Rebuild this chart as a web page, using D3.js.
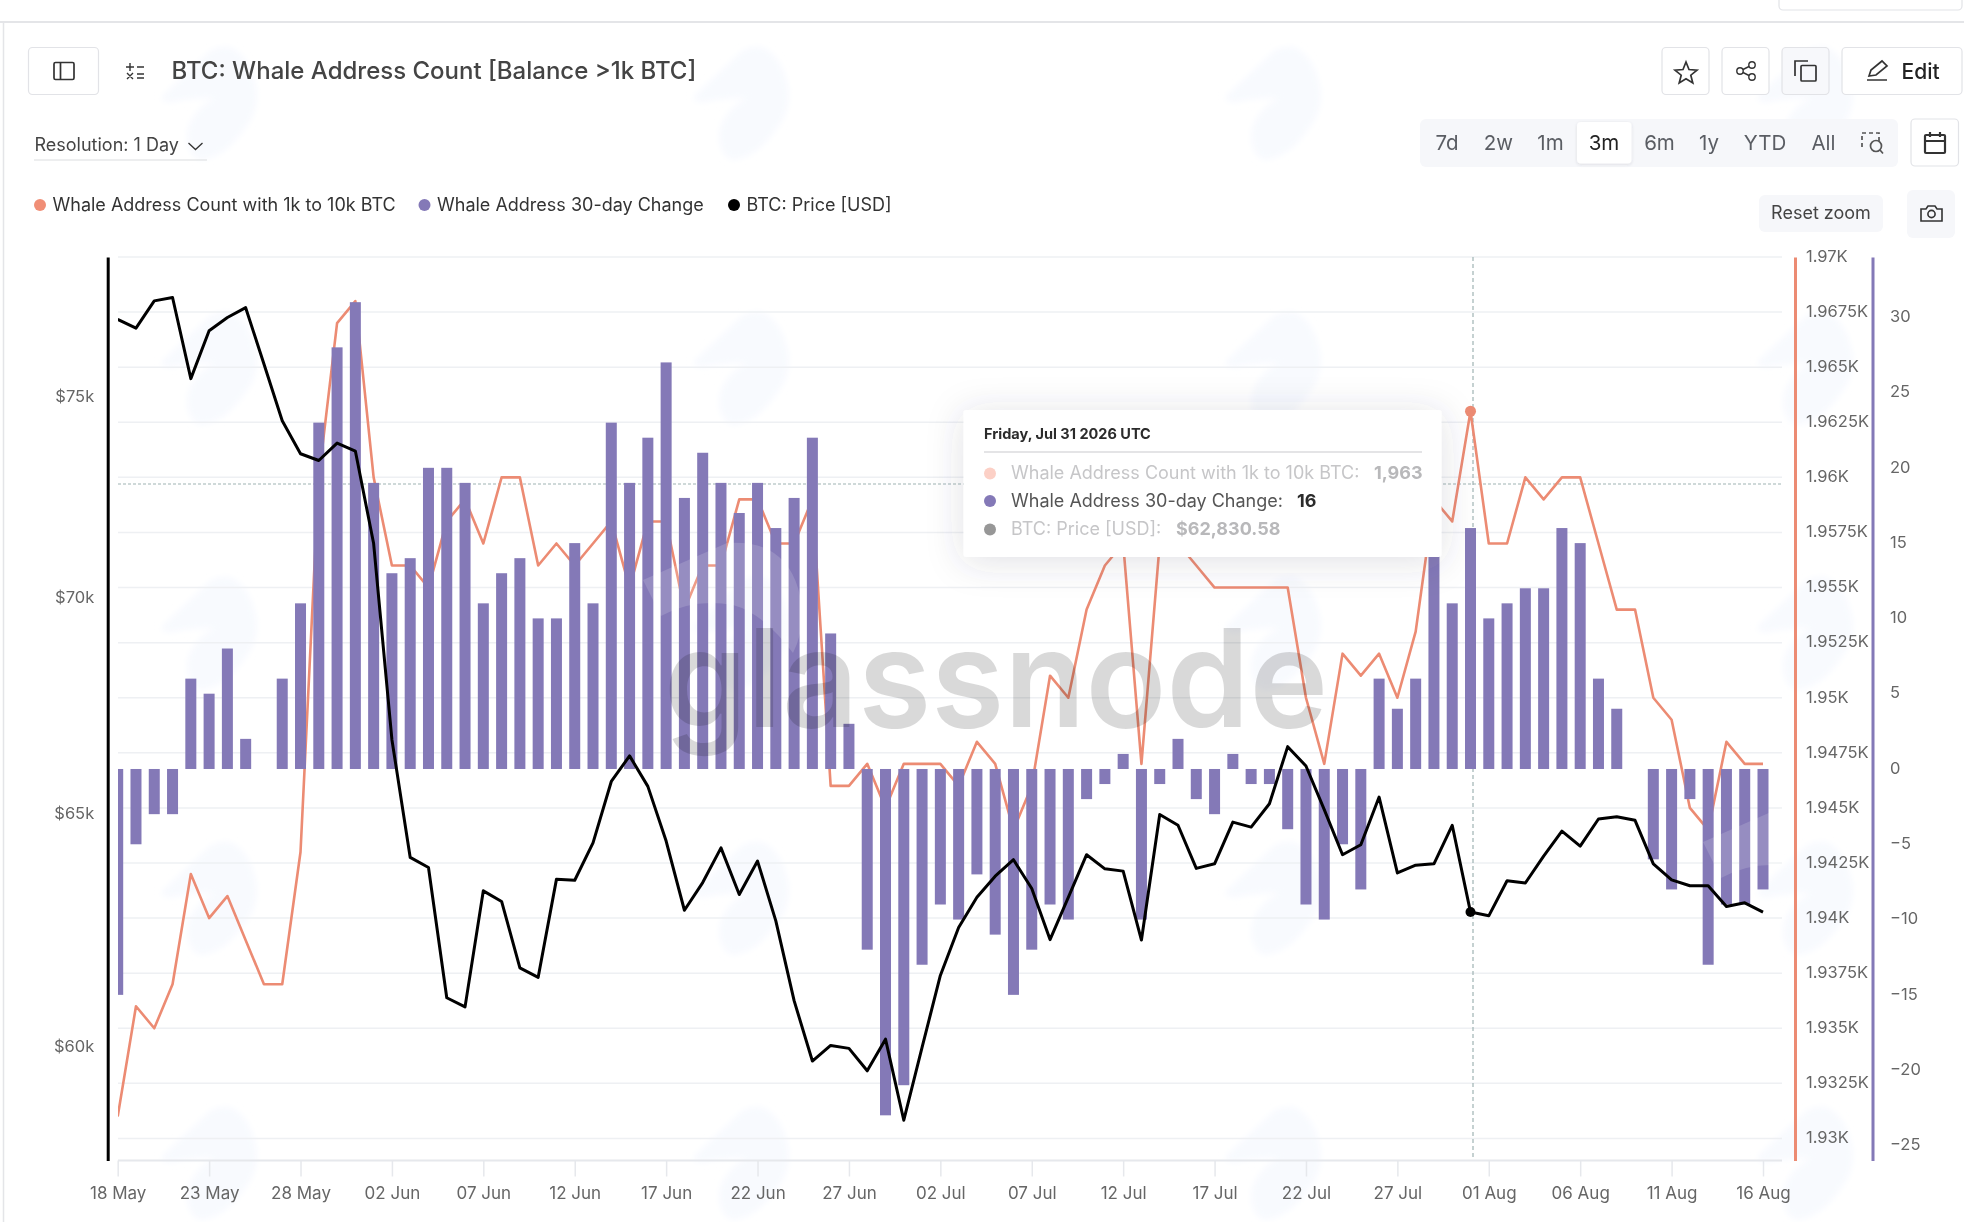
<!DOCTYPE html>
<html>

<head>
  <meta charset="utf-8">
  <style>
    body {
      margin: 0;
      background: #fff;
    }

    text {
      font-family: Inter, "Noto Sans", sans-serif;
    }

    .axis text {
      font-size: 16.5px;
      fill: #666;
    }

    .axis.days text {
      font-size: 17px;
    }

    .icon {
      fill: none;
      stroke: #333;
      stroke-width: 1.7;
    }
  </style>
</head>

<body>
  <svg id="chart" width="1964" height="1222" viewBox="0 0 1964 1222"></svg>

  <script src="https://d3js.org/d3.v7.min.js"></script>
  <script>
    // whale addresses holding 1k to 10k BTC, one value per day from 18 May
    const whaleCount = [
      1931, 1936, 1935, 1937, 1942, 1940, 1941, 1939, 1937, 1937,
      1943, 1960, 1967, 1968, 1960, 1956, 1956, 1955, 1958, 1959,
      1957, 1960, 1960, 1956, 1957, 1956, 1957, 1958, 1955, 1958,
      1958, 1954, 1956, 1956, 1959, 1959, 1957, 1957, 1959, 1946,
      1946, 1947, 1945, 1947, 1947, 1947, 1946, 1948, 1947, 1944,
      1946, 1951, 1950, 1954, 1956, 1957, 1947, 1957, 1957, 1956,
      1955, 1955, 1955, 1955, 1955, 1950, 1947, 1952, 1951, 1952,
      1950, 1953, 1959, 1958, 1963, 1957, 1957, 1960, 1959, 1960,
      1960, 1957, 1954, 1954, 1950, 1949, 1945, 1944, 1948, 1947,
      1947
    ]

    const whaleChange = [
      -15, -5, -3, -3, 6, 5, 8, 2, 0, 6,
      11, 23, 28, 31, 19, 13, 14, 20, 20, 19,
      11, 13, 14, 10, 10, 15, 11, 23, 19, 22,
      27, 18, 21, 19, 17, 19, 16, 18, 22, 9,
      3, -12, -23, -21, -13, -9, -10, -7, -11, -15,
      -12, -9, -10, -2, -1, 1, -10, -1, 2, -2,
      -3, 1, -1, -1, -4, -9, -10, -5, -8, 6,
      4, 6, 15, 11, 16, 10, 11, 12, 12, 16,
      15, 6, 4, 0, -6, -8, -2, -13, -9, -9,
      -8
    ]

    const btcPrice = [
      77000, 76770, 77490, 77580, 75450, 76700, 77050, 77310, 75830, 74370,
      73530, 73360, 73800, 73600, 71300, 66660, 64020, 63800, 61010, 60820,
      63290, 63060, 61640, 61440, 63540, 63520, 64340, 65710, 66290, 65600,
      64380, 62870, 63470, 64230, 63210, 63940, 62640, 60950, 59700, 60020,
      59960, 59500, 60150, 58500, 59980, 61480, 62500, 63150, 63610, 63970,
      63340, 62240, 63150, 64080, 63770, 63720, 62230, 64970, 64730, 63780,
      63880, 64800, 64690, 65210, 66500, 66060, 65080, 64080, 64300, 65360,
      63680, 63850, 63880, 64730, 62830.58, 62750, 63510, 63460, 64050, 64600,
      64270, 64870, 64920, 64840, 63880, 63530, 63400, 63400, 62950, 63030,
      62830
    ]

    const priceTicks = [60000, 65000, 70000, 75000]
    const countTicks = [1930, 1932.5, 1935, 1937.5, 1940, 1942.5, 1945, 1947.5, 1950, 1952.5, 1955, 1957.5, 1960, 1962.5, 1965, 1967.5, 1970]
    const changeTicks = [-25, -20, -15, -10, -5, 0, 5, 10, 15, 20, 25, 30]
    const rangeButtons = ["7d", "2w", "1m", "3m", "6m", "1y", "YTD", "All"]
    const legendNames = ["Whale Address Count with 1k to 10k BTC", "Whale Address 30-day Change", "BTC: Price [USD]"]

    const ORANGE = "#ec8b73"
    const PURPLE = "#8479b7"

    const plotTop = 257, plotBottom = 1160.5, plotLeft = 118, plotRight = 1782

    const svg = d3.select("#chart")
    const days = d3.utcDay.range(new Date(Date.UTC(2026, 4, 18)), new Date(Date.UTC(2026, 7, 17)))
    const hover = days.findIndex(d => +d === Date.UTC(2026, 6, 31))

    // scales
    const x = d3.scaleUtc().domain([days[0], days[days.length - 1]]).range([117.7, 1763])
    const yPrice = d3.scaleLog().domain([57697, 78666]).range([plotBottom, plotTop])
    const yCount = d3.scaleLinear().domain([1929, 1970]).range([plotBottom, plotTop])
    const yChange = d3.scaleLinear().domain([-26, 34]).range([plotBottom, plotTop])

    const defs = svg.append("defs")
    defs.append("clipPath").attr("id", "plot")
      .append("rect")
      .attr("x", plotLeft).attr("y", plotTop)
      .attr("width", plotRight - plotLeft).attr("height", plotBottom - plotTop)

    const shadow = defs.append("filter").attr("id", "soft")
      .attr("x", "-20%").attr("y", "-40%").attr("width", "140%").attr("height", "180%")
    shadow.append("feDropShadow")
      .attr("dx", 0).attr("dy", 4).attr("stdDeviation", 18)
      .attr("flood-color", "#445").attr("flood-opacity", 0.16)

    const tabShadow = defs.append("filter").attr("id", "tab")
    tabShadow.append("feDropShadow")
      .attr("dx", 0).attr("dy", 1).attr("stdDeviation", 1.5)
      .attr("flood-color", "#445").attr("flood-opacity", 0.15)

    defs.append("filter").attr("id", "blur")
      .append("feGaussianBlur").attr("stdDeviation", 3)

    // watermark bird
    const birdPath = "M0,55 L50,8 Q75,-6 90,25 Q106,60 85,85 Q65,115 40,117 Q24,110 28,85 Q35,65 55,55 Q30,55 8,60 Z"
    const wingPath = "M0,37 L84,0 Q140,-4 155,45 Q165,80 150,110 Q120,70 90,62 Q50,55 18,73 Z"

    const logoLayer = svg.append("g").attr("filter", "url(#blur)")
    const logoCols = [160, 692, 1224, 1756]
    const logoRows = [43, 308, 573, 838, 1103]
    logoCols.forEach(cx => logoRows.forEach(cy => {
      logoLayer.append("path")
        .attr("d", birdPath)
        .attr("transform", `translate(${cx},${cy})`)
        .attr("fill", "#f8fafe")
    }))

    // page frame
    svg.append("line").attr("x1", 0).attr("x2", 1964).attr("y1", 22).attr("y2", 22)
      .attr("stroke", "#e4e5e8").attr("stroke-width", 2)
    svg.append("line").attr("x1", 3.5).attr("x2", 3.5).attr("y1", 22).attr("y2", 1222)
      .attr("stroke", "#e4e5e8").attr("stroke-width", 1.5)
    svg.append("rect").attr("x", 1779).attr("y", -10).attr("width", 183).attr("height", 20).attr("rx", 4)
      .attr("fill", "#fff").attr("stroke", "#e2e3e7").attr("stroke-width", 1.2)

    function button(x0, y0, w, h, fill) {
      svg.append("rect")
        .attr("x", x0).attr("y", y0).attr("width", w).attr("height", h).attr("rx", 4)
        .attr("fill", fill || "#fff").attr("stroke", "#e2e3e7").attr("stroke-width", 1.2)
    }

    function softBox(x0, y0, w, h) {
      svg.append("rect")
        .attr("x", x0).attr("y", y0).attr("width", w).attr("height", h).attr("rx", 6)
        .attr("fill", "#f6f7fa")
    }

    // header, left side
    button(28.5, 47.5, 70, 47)
    svg.append("rect").attr("class", "icon").attr("x", 54).attr("y", 62.5).attr("width", 20).attr("height", 17).attr("rx", 1.5)
    svg.append("line").attr("class", "icon").attr("x1", 60.5).attr("x2", 60.5).attr("y1", 62.5).attr("y2", 79.5)
    svg.append("path").attr("class", "icon").style("stroke-width", 1.4)
      .attr("d", "M126,67h8M130,63v8M137,67h7M127,73l6,6M133,73l-6,6M137,74h7M137,78h7")

    svg.append("text").attr("x", 171.5).attr("y", 79)
      .attr("font-size", 24).attr("font-weight", 500).attr("fill", "#444")
      .text("BTC: Whale Address Count [Balance >1k BTC]")

    svg.append("text").attr("x", 34.5).attr("y", 150.5)
      .attr("font-size", 18).attr("fill", "#444").text("Resolution: 1 Day")
    svg.append("path").attr("class", "icon").style("stroke-width", 1.3).attr("d", "M188.5,143l7,6.5l7,-6.5")
    svg.append("line").attr("x1", 34).attr("x2", 207).attr("y1", 160).attr("y2", 160)
      .attr("stroke", "#dcdde0").attr("stroke-width", 1.2)

    // legend
    const legendX = [40, 424.5, 734]
    const legendColor = ["#f08e76", PURPLE, "#000"]
    legendNames.forEach((name, i) => {
      svg.append("circle").attr("cx", legendX[i]).attr("cy", 205).attr("r", 6).attr("fill", legendColor[i])
      svg.append("text").attr("x", legendX[i] + 12.5).attr("y", 210.5)
        .attr("font-size", 18).attr("fill", "#333").text(name)
    })

    // header, right side
    button(1662, 47.5, 47, 47)
    svg.append("path").attr("class", "icon")
      .attr("d", "M1686,62l3,7.5l8,.6l-6.2,5.1l2,7.8l-6.8,-4.3l-6.8,4.3l2,-7.8l-6.2,-5.1l8,-.6z")
    button(1722, 47.5, 47, 47)
    svg.append("path").attr("class", "icon").style("stroke-width", 1.4).attr("d", "M1740,71L1752,65M1740,71L1752,77")
    svg.selectAll(".shareDot").data([[1740, 71], [1752, 65], [1752, 77]]).join("circle")
      .attr("class", "icon").attr("cx", d => d[0]).attr("cy", d => d[1]).attr("r", 3.2)
      .style("fill", "#fff").style("stroke-width", 1.4)
    button(1782, 47.5, 47, 47, "#f7f8fb")
    svg.append("path").attr("class", "icon").attr("d", "M1795,76V61H1808")
    svg.append("rect").attr("class", "icon").attr("x", 1801).attr("y", 65.5).attr("width", 15).attr("height", 15.5).attr("rx", 1)
    button(1842, 47.5, 120, 47)
    svg.append("path").attr("class", "icon")
      .attr("d", "M1869,76l2,-6l11,-9l5,5l-11,9zM1867,80h20")
    svg.append("text").attr("x", 1901.5).attr("y", 78.5)
      .attr("font-size", 21).attr("font-weight", 500).attr("fill", "#222").text("Edit")

    // range picker
    softBox(1420, 119, 478, 48)
    svg.append("rect").attr("x", 1577).attr("y", 122).attr("width", 54.5).attr("height", 41.5).attr("rx", 4)
      .attr("fill", "#fff").attr("filter", "url(#tab)")
    const rangeCenters = [1447, 1498.5, 1550.5, 1604, 1659.5, 1709, 1765, 1823.5]
    svg.selectAll(".range").data(rangeButtons).join("text")
      .attr("class", "range")
      .attr("x", (d, i) => rangeCenters[i]).attr("y", 149.5)
      .attr("text-anchor", "middle").attr("font-size", 20.5)
      .attr("fill", d => d === "3m" ? "#222" : "#5a5d63")
      .text(d => d)
    svg.append("path").attr("class", "icon").style("stroke", "#555").style("stroke-dasharray", "4 3")
      .attr("d", "M1862,147V133H1879V141")
    svg.append("circle").attr("class", "icon").style("stroke", "#555").attr("cx", 1876).attr("cy", 146).attr("r", 5.5)
    svg.append("path").attr("class", "icon").style("stroke", "#555").attr("d", "M1880,150l3,3.5")

    button(1911, 119, 47.5, 47)
    svg.append("rect").attr("class", "icon").style("stroke-width", 2.2).attr("x", 1925).attr("y", 135).attr("width", 20).attr("height", 18).attr("rx", 1)
    svg.append("path").attr("class", "icon").style("stroke-width", 2.2).attr("d", "M1925,141h20M1930,132v5M1940,132v5")

    softBox(1759, 195, 124, 37)
    svg.append("text").attr("x", 1821).attr("y", 219).attr("text-anchor", "middle")
      .attr("font-size", 18).attr("fill", "#444").text("Reset zoom")
    softBox(1907, 190, 48, 48)
    svg.append("path").attr("class", "icon").style("stroke-width", 1.6)
      .attr("d", "M1921,209h5l2,-3h7l2,3h5v12h-21z")
    svg.append("circle").attr("class", "icon").style("stroke-width", 1.6).attr("cx", 1931.5).attr("cy", 214).attr("r", 3.6)

    // gridlines
    svg.append("g").selectAll("line").data(countTicks).join("line")
      .attr("x1", plotLeft).attr("x2", plotRight)
      .attr("y1", d => yCount(d)).attr("y2", d => yCount(d))
      .attr("stroke", "#eef0f3").attr("stroke-width", 1.5)

    const plot = svg.append("g").attr("clip-path", "url(#plot)")

    // cursor lines sit behind the series
    const cursorX = x(days[hover]) + 2.5
    plot.append("line")
      .attr("x1", plotLeft).attr("x2", plotRight)
      .attr("y1", yCount(1959.7)).attr("y2", yCount(1959.7))
      .attr("stroke", "#9fb3b3").attr("stroke-width", 1.2).attr("stroke-dasharray", "3 2")
    plot.append("line")
      .attr("x1", cursorX).attr("x2", cursorX)
      .attr("y1", plotTop).attr("y2", plotBottom)
      .attr("stroke", "#9fb3b3").attr("stroke-width", 1.2).attr("stroke-dasharray", "4 3")

    const lineCount = d3.line().x((d, i) => x(days[i])).y(d => yCount(d))
    plot.append("path").datum(whaleCount)
      .attr("d", lineCount)
      .attr("fill", "none").attr("stroke", ORANGE).attr("stroke-width", 2.6).attr("stroke-linejoin", "round")

    const barWidth = 11
    plot.selectAll(".bar").data(whaleChange).join("rect")
      .attr("class", "bar")
      .attr("x", (d, i) => x(days[i]) - barWidth / 2)
      .attr("y", d => yChange(Math.max(d, 0)))
      .attr("width", barWidth)
      .attr("height", d => Math.abs(yChange(d) - yChange(0)))
      .attr("fill", PURPLE)

    const linePrice = d3.line().x((d, i) => x(days[i])).y(d => yPrice(d))
    plot.append("path").datum(btcPrice)
      .attr("d", linePrice)
      .attr("fill", "none").attr("stroke", "#000").attr("stroke-width", 3).attr("stroke-linejoin", "round")

    plot.append("circle").attr("cx", x(days[hover])).attr("cy", yCount(whaleCount[hover])).attr("r", 5.5).attr("fill", ORANGE)
    plot.append("circle").attr("cx", x(days[hover])).attr("cy", yPrice(btcPrice[hover])).attr("r", 5).attr("fill", "#000")

    // watermark on top of the marks
    const overlayBirds = [[643, 543], [1703, 805]]
    overlayBirds.forEach(p => {
      plot.append("path")
        .attr("d", wingPath)
        .attr("transform", `translate(${p[0]},${p[1]})`)
        .attr("fill", "#fff").attr("opacity", 0.15)
    })
    svg.append("text").attr("x", 664).attr("y", 727)
      .attr("font-size", 136).attr("font-weight", 600)
      .attr("textLength", 664).attr("lengthAdjust", "spacingAndGlyphs")
      .attr("fill", "#000").attr("fill-opacity", 0.15)
      .text("glassnode")

    // axes
    const axisPrice = d3.axisLeft(yPrice).tickValues(priceTicks).tickSize(0).tickPadding(13.5)
      .tickFormat(d => "$" + d / 1000 + "k")
    const gPrice = svg.append("g").attr("class", "axis").attr("transform", "translate(107.7,0)").call(axisPrice)
    gPrice.select(".domain").attr("stroke", "#000").attr("stroke-width", 3)

    const axisCount = d3.axisRight(yCount).tickValues(countTicks).tickSize(0).tickPadding(11)
      .tickFormat(d => d / 1000 + "K")
    const gCount = svg.append("g").attr("class", "axis").attr("transform", "translate(1795,0)").call(axisCount)
    gCount.select(".domain").attr("stroke", ORANGE).attr("stroke-width", 3)
    gCount.selectAll(".tick text").attr("dy", "0.26em")

    const axisChange = d3.axisRight(yChange).tickValues(changeTicks).tickSize(0).tickPadding(17.5)
    const gChange = svg.append("g").attr("class", "axis").attr("transform", "translate(1872.5,0)").call(axisChange)
    gChange.select(".domain").attr("stroke", PURPLE).attr("stroke-width", 3)
    gChange.selectAll(".tick text").attr("dy", "0.26em")

    const axisDays = d3.axisBottom(x).tickValues(days.filter((d, i) => i % 5 === 0))
      .tickSize(16).tickPadding(10).tickSizeOuter(0)
      .tickFormat(d3.utcFormat("%d %b"))
    const gDays = svg.append("g").attr("class", "axis days").attr("transform", `translate(0,${plotBottom})`).call(axisDays)
    gDays.select(".domain").attr("d", `M${plotLeft},0H${plotRight}`).attr("stroke", "#e6e8ec").attr("stroke-width", 2)
    gDays.selectAll(".tick line").attr("stroke", "#e6e8ec").attr("stroke-width", 1.5)

    // tooltip
    const tip = svg.append("g")
    tip.append("rect").attr("x", 963.5).attr("y", 410).attr("width", 478).attr("height", 147).attr("rx", 3)
      .attr("fill", "#fff").attr("filter", "url(#soft)")
    tip.append("text").attr("x", 984).attr("y", 439)
      .attr("font-size", 14.5).attr("font-weight", 700).attr("fill", "#2b2b2b")
      .text("Friday, Jul 31 2026 UTC")
    tip.append("line").attr("x1", 984).attr("x2", 1422).attr("y1", 452).attr("y2", 452)
      .attr("stroke", "#e4e4e6").attr("stroke-width", 2)

    const f = d3.format(",")
    const tipRows = [
      { name: legendNames[0] + ":", value: f(whaleCount[hover]), dot: "#fcd0c6", ink: "#c6c6c8", bold: "#b8b8ba", cy: 473.5, valueX: 1374 },
      { name: legendNames[1] + ":", value: String(whaleChange[hover]), dot: PURPLE, ink: "#555", bold: "#2b2b2b", cy: 501, valueX: 1297 },
      { name: legendNames[2] + ":", value: "$" + d3.format(",.2f")(btcPrice[hover]), dot: "#979797", ink: "#c6c6c8", bold: "#b8b8ba", cy: 529.5, valueX: 1176 }
    ]
    tipRows.forEach(r => {
      tip.append("circle").attr("cx", 990).attr("cy", r.cy).attr("r", 6).attr("fill", r.dot)
      tip.append("text").attr("x", 1011).attr("y", r.cy + 5.5)
        .attr("font-size", 18).attr("fill", r.ink).text(r.name)
      tip.append("text").attr("x", r.valueX).attr("y", r.cy + 5.5)
        .attr("font-size", 18).attr("font-weight", 700).attr("fill", r.bold).text(r.value)
    })
  </script>
</body>

</html>
